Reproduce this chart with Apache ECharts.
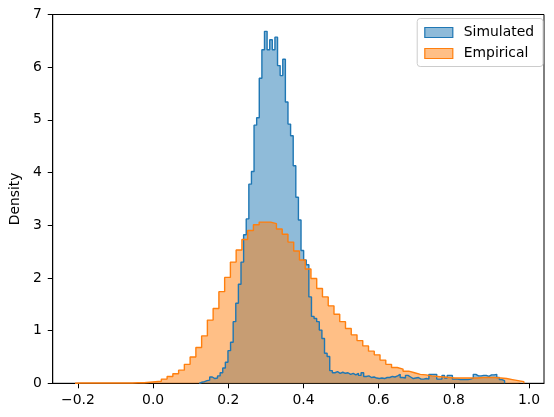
<!DOCTYPE html>
<html>
<head>
<meta charset="utf-8">
<script src="https://cdn.jsdelivr.net/npm/echarts@6/dist/echarts.min.js"></script>
<style>
  html, body { margin: 0; padding: 0; background: #fff; }
  #chart { width: 554px; height: 417px; }
</style>
</head>
<body>
<div id="chart"></div>
<script>
  // left edge of first bin + bin width
  var simStart = 0.1228, simWidth = 0.006943;
  var empStart = -0.2077, empWidth = 0.01531;

  // density per bin
  var simDensity = [
    0.02, 0.03, 0.05, 0.06, 0.12, 0.09, 0.10, 0.14, 0.20, 0.29,
    0.40, 0.62, 0.78, 1.17, 1.52, 1.88, 2.30, 2.82, 3.12, 3.78,
    4.02, 4.90, 5.04, 5.79, 6.33, 6.68, 6.33, 6.52, 6.33, 6.57,
    6.03, 5.84, 6.15, 5.34, 4.92, 4.70, 4.13, 3.53, 3.10, 2.52,
    2.34, 2.25, 1.64, 1.27, 1.23, 1.17, 1.01, 0.85, 0.57, 0.51,
    0.24, 0.20, 0.22, 0.19, 0.21, 0.19, 0.20, 0.17, 0.19, 0.16,
    0.19, 0.15, 0.20, 0.13, 0.14, 0.11, 0.12, 0.10, 0.09, 0.10,
    0.09, 0.11, 0.11, 0.13, 0.12, 0.14, 0.17, 0.11, 0.10, 0.15,
    0.12, 0.09, 0.10, 0.11, 0.08, 0.08, 0.09, 0.08, 0.17, 0.17,
    0.17, 0.08, 0.08, 0.15, 0.10, 0.15, 0.15, 0.08, 0.08, 0.07,
    0.07, 0.07, 0.07, 0.08, 0.10, 0.17, 0.14, 0.14, 0.15, 0.15,
    0.13, 0.16, 0.16, 0.17, 0.11, 0.07, 0.05
  ];
  var empDensity = [
    0.005, 0.005, 0.005, 0.005, 0.005, 0.005, 0.005, 0.005, 0.005, 0.005,
    0.01, 0.01, 0.02, 0.03, 0.04, 0.08, 0.13, 0.18, 0.25, 0.36,
    0.50, 0.68, 0.90, 1.20, 1.42, 1.74, 2.01, 2.30, 2.53, 2.73,
    2.90, 3.01, 3.06, 3.06, 3.03, 2.93, 2.83, 2.68, 2.51, 2.34,
    2.17, 1.99, 1.80, 1.64, 1.47, 1.31, 1.17, 1.04, 0.92, 0.81,
    0.71, 0.61, 0.54, 0.44, 0.36, 0.30, 0.27, 0.23, 0.20, 0.17,
    0.16, 0.14, 0.13, 0.12, 0.11, 0.10, 0.10, 0.10, 0.10, 0.10,
    0.11, 0.11, 0.11, 0.10, 0.09, 0.07, 0.05, 0.03
  ];
  var seriesNames = ['Simulated', 'Empirical'];
  var xTicks = [-0.2, 0, 0.2, 0.4, 0.6, 0.8, 1.0];

  // histogram outline as a stepped polyline
  function stepPoints(start, width, heights) {
    var pts = [[start, 0]];
    for (var i = 0; i < heights.length; i++) {
      pts.push([start + i * width, heights[i]]);
    }
    var end = start + heights.length * width;
    pts.push([end, heights[heights.length - 1]]);
    pts.push([end, 0]);
    return pts;
  }

  var font = 'DejaVu Sans';
  var chart = echarts.init(document.getElementById('chart'));

  chart.setOption({
    animation: false,
    textStyle: { fontFamily: font },
    grid: {
      left: 48, right: 10, top: 14.5, bottom: 33.7,
      show: true, borderColor: '#000', borderWidth: 1, backgroundColor: 'transparent'
    },
    legend: {
      orient: 'vertical',
      right: 11, top: 18.5,
      padding: [7, 9, 6, 7],
      itemGap: 7,
      itemWidth: 28, itemHeight: 10,
      icon: 'rect',
      backgroundColor: 'rgba(255,255,255,0.8)',
      borderColor: '#cccccc', borderWidth: 1, borderRadius: 3,
      textStyle: { fontFamily: font, fontSize: 13.9, color: '#000', padding: [0, 0, 0, 6] },
      data: [
        { name: seriesNames[0], itemStyle: { color: 'rgba(31,119,180,0.5)', borderColor: '#1f77b4', borderWidth: 1.2 } },
        { name: seriesNames[1], itemStyle: { color: 'rgba(255,127,14,0.5)', borderColor: '#ff7f0e', borderWidth: 1.2 } }
      ]
    },
    xAxis: {
      type: 'value',
      min: -0.267, max: 1.04,
      splitLine: { show: false },
      axisLine: { onZero: false, lineStyle: { color: '#000', width: 1 } },
      axisTick: { customValues: xTicks, length: 5, lineStyle: { color: '#000' } },
      axisLabel: {
        customValues: xTicks,
        margin: 10,
        color: '#000', fontSize: 13.9, fontFamily: font,
        formatter: function (v) {
          return v < 0 ? '\u2212' + Math.abs(v).toFixed(1) : v.toFixed(1);
        }
      }
    },
    yAxis: {
      type: 'value',
      min: 0, max: 7, interval: 1,
      name: 'Density',
      nameLocation: 'middle',
      nameGap: 30,
      nameTextStyle: { color: '#000', fontSize: 13.9, fontFamily: font },
      splitLine: { show: false },
      axisLine: { show: true, onZero: false, lineStyle: { color: '#000', width: 1 } },
      axisTick: { show: true, length: 5, lineStyle: { color: '#000' } },
      axisLabel: { margin: 11, color: '#000', fontSize: 13.9, fontFamily: font }
    },
    series: [
      {
        name: seriesNames[0],
        type: 'line',
        step: 'end',
        showSymbol: false,
        data: stepPoints(simStart, simWidth, simDensity),
        itemStyle: { color: '#1f77b4' },
        lineStyle: { color: '#1f77b4', width: 1.4 },
        areaStyle: { color: '#1f77b4', opacity: 0.5 }
      },
      {
        name: seriesNames[1],
        type: 'line',
        step: 'end',
        showSymbol: false,
        data: stepPoints(empStart, empWidth, empDensity),
        itemStyle: { color: '#ff7f0e' },
        lineStyle: { color: '#ff7f0e', width: 1.4 },
        areaStyle: { color: '#ff7f0e', opacity: 0.5 }
      }
    ]
  });
</script>
</body>
</html>
